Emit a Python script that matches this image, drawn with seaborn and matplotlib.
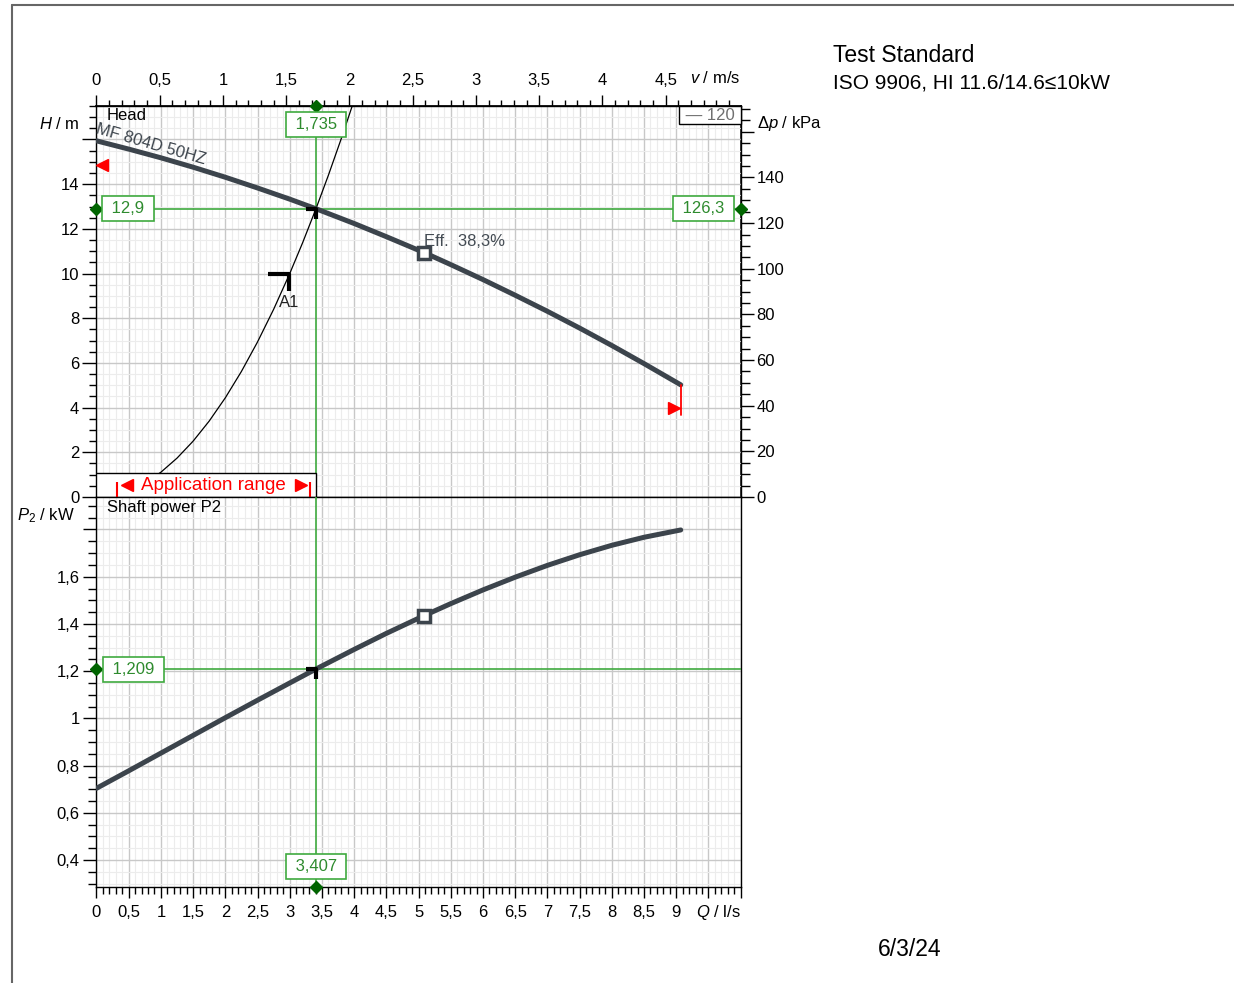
import numpy as np
import matplotlib.pyplot as plt
import seaborn as sns
from matplotlib.ticker import MultipleLocator, FixedLocator, FuncFormatter
from matplotlib.patches import Rectangle
from matplotlib.lines import Line2D

sns.set_theme(style='white', rc={'xtick.bottom': True, 'ytick.left': True,
                                 'axes.edgecolor': 'black', 'xtick.color': 'black',
                                 'ytick.color': 'black', 'text.color': 'black'})
plt.rcParams['font.family'] = ['Liberation Sans', 'DejaVu Sans']
plt.rcParams['mathtext.fontset'] = 'custom'
plt.rcParams['mathtext.rm'] = 'Liberation Sans'
plt.rcParams['mathtext.it'] = 'Liberation Sans:italic'

# pump curve MF 804D 50HZ
q_pump = [0, 0.5, 1, 1.5, 2, 2.5, 3, 3.407, 4, 4.5, 5.085, 5.5, 6, 6.5, 7, 7.5, 8, 8.5, 9.07]
head = [15.94, 15.57, 15.18, 14.76, 14.31, 13.83, 13.33, 12.90, 12.24, 11.65, 10.94,
        10.40, 9.73, 9.03, 8.31, 7.56, 6.78, 5.97, 5.02]
power = [0.704, 0.778, 0.853, 0.928, 1.003, 1.077, 1.150, 1.209, 1.292, 1.360, 1.435,
         1.486, 1.544, 1.598, 1.648, 1.693, 1.733, 1.767, 1.798]

# system curve
q_sys = [0, 0.5, 0.75, 1, 1.25, 1.5, 1.75, 2, 2.25, 2.5, 2.75, 3, 3.2, 3.407, 3.6, 3.8, 3.97]
h_sys = [0, 0.28, 0.62, 1.11, 1.74, 2.50, 3.40, 4.44, 5.62, 6.94, 8.40, 10.0, 11.38, 12.9,
         14.40, 16.04, 17.5]

# duty point
op_q, op_h, op_dp, op_v, op_p = 3.407, 12.9, 126.3, 1.735, 1.209
eff_q, eff_h, eff_p, eff_txt = 5.085, 10.94, 1.435, 'Eff.  38,3%'
a1_q, a1_h = 2.99, 9.97
app_q = [0.32, 3.32]
app_box_h = 1.06
lim_left = (0.09, 14.87)
lim_right = (8.97, 3.98)
lim_right_bar = [3.67, 5.02]

q_max, h_max = 10, 17.5
p_min, p_max = 0.2875, 1.9375

curve_c = '#3c444c'
green = '#3faa3f'
green_txt = '#2e8b2e'
dgreen = '#006400'


def comma(v, pos=None):
    s = f'{v:.2f}'.rstrip('0').rstrip('.')
    return s.replace('.', ',')


def fmt(v, nd):
    return f'{v:.{nd}f}'.replace('.', ',')


fig = plt.figure(figsize=(12.34, 9.83), dpi=100)
ax1 = fig.add_axes([0.0782, 0.4944, 0.5220, 0.3978])
ax2 = fig.add_axes([0.0782, 0.0980, 0.5220, 0.3964], sharex=ax1)

for ax in (ax1, ax2):
    ax.set_axisbelow(True)
    ax.xaxis.set_major_locator(MultipleLocator(0.5))
    ax.xaxis.set_minor_locator(MultipleLocator(0.1))
    ax.grid(which='major', color='#c8c8c8', lw=1.0)
    ax.grid(which='minor', color='#ececec', lw=0.8)
    for sp in ax.spines.values():
        sp.set_color('black')
        sp.set_linewidth(1.0)

ax1.set_xlim(0, q_max)
ax1.set_ylim(0, h_max)
ax2.set_ylim(p_min, p_max)

# upper panel ticks
ax1.yaxis.set_major_locator(MultipleLocator(2))
ax1.yaxis.set_minor_locator(MultipleLocator(0.5))
ax1.yaxis.set_major_formatter(FuncFormatter(lambda v, p: comma(v) if v <= 14.01 else ''))
ax1.tick_params(axis='x', which='both', bottom=False, labelbottom=False)
ax1.tick_params(axis='y', which='major', direction='out', length=10, width=1, labelsize=12, pad=2.5)
ax1.tick_params(axis='y', which='minor', direction='out', length=5, width=1, left=True)

v_per_q = op_v / op_q
dp_per_h = op_dp / op_h
top = ax1.secondary_xaxis('top', functions=(lambda q: np.asarray(q) * v_per_q,
                                            lambda v: np.asarray(v) / v_per_q))
top.xaxis.set_major_locator(FixedLocator(np.arange(0, 4.51, 0.5)))
top.xaxis.set_minor_locator(MultipleLocator(0.1))
top.xaxis.set_major_formatter(FuncFormatter(comma))
top.tick_params(which='major', direction='out', length=8, width=1, labelsize=12, pad=5)
top.tick_params(which='minor', direction='out', length=4.3, width=1)

right = ax1.secondary_yaxis('right', functions=(lambda h: np.asarray(h) * dp_per_h,
                                                lambda d: np.asarray(d) / dp_per_h))
right.yaxis.set_major_locator(MultipleLocator(20))
right.yaxis.set_minor_locator(MultipleLocator(5))
right.yaxis.set_major_formatter(FuncFormatter(lambda v, p: comma(v) if v <= 140.1 else ''))
right.tick_params(which='major', direction='out', length=9.5, width=1, labelsize=12, pad=2)
right.tick_params(which='minor', direction='out', length=6.5, width=1)

# lower panel ticks
ax2.yaxis.set_major_locator(FixedLocator(np.arange(0.4, 1.81, 0.2)))
ax2.yaxis.set_minor_locator(MultipleLocator(0.05))
ax2.yaxis.set_major_formatter(FuncFormatter(lambda v, p: comma(v) if v <= 1.61 else ''))
ax2.xaxis.set_major_formatter(FuncFormatter(lambda v, p: comma(v) if v <= 9.01 else ''))
ax2.tick_params(axis='y', which='major', direction='out', length=9.5, width=1, labelsize=12, pad=2.5)
ax2.tick_params(axis='y', which='minor', direction='out', length=5.5, width=1, left=True)
ax2.tick_params(axis='x', which='major', direction='out', length=8, width=1, labelsize=12, pad=5)
ax2.tick_params(axis='x', which='minor', direction='out', length=5, width=1, bottom=True)

# curves
sns.lineplot(x=q_pump, y=head, ax=ax1, color=curve_c, lw=3.6, zorder=5)
sns.lineplot(x=q_sys, y=h_sys, ax=ax1, color='black', lw=0.9, zorder=4)
sns.lineplot(x=q_pump, y=power, ax=ax2, color=curve_c, lw=3.6, zorder=5)

# duty point lines
for ax in (ax1, ax2):
    ax.axvline(op_q, color=green, lw=1.2, zorder=3)
ax1.axhline(op_h, color=green, lw=1.2, zorder=3)
ax2.axhline(op_p, color=green, lw=1.2, zorder=3)

# application range box
ax1.add_patch(Rectangle((0, 0), op_q, app_box_h, facecolor='white', edgecolor='black',
                        lw=1.0, zorder=6))
ax1.vlines(app_q, 0, app_box_h * 0.65, color='red', lw=1.5, zorder=7)
ax1.plot(app_q[0] + 0.15, app_box_h * 0.5, marker='<', color='red', ms=9, zorder=7)
ax1.plot(app_q[1] - 0.15, app_box_h * 0.5, marker='>', color='red', ms=9, zorder=7)
ax1.text(np.mean(app_q), app_box_h * 0.5, 'Application range', color='red', fontsize=13.5,
         ha='center', va='center', zorder=8)

# limit markers
ax1.plot(*lim_left, marker='<', color='red', ms=9, zorder=7)
ax1.plot(*lim_right, marker='>', color='red', ms=9, zorder=7)
ax1.plot([q_pump[-1]] * 2, lim_right_bar, color='red', lw=1.3, zorder=6)

# markers
corner = [(-1, 0), (0, 0), (0, -1)]
corner_a1 = [(-1, 0), (0, 0), (0, -0.8)]
ax1.plot(op_q, op_h, marker=corner, ms=14.4, mew=3, mec='black', mfc='none', zorder=8)
ax2.plot(op_q, op_p, marker=corner, ms=14.4, mew=3, mec='black', mfc='none', zorder=8)
ax1.plot(a1_q, a1_h, marker=corner_a1, ms=30, mew=3, mec='black', mfc='none', zorder=8)
ax1.text(a1_q, a1_h - 1.25, 'A1', fontsize=12, ha='center', va='center', color='#222222')
ax1.plot(eff_q, eff_h, marker='s', ms=8, mew=2.5, mec=curve_c, mfc='white', zorder=8)
ax2.plot(eff_q, eff_p, marker='s', ms=8, mew=2.5, mec=curve_c, mfc='white', zorder=8)
ax1.text(eff_q, eff_h + 0.5, eff_txt, fontsize=12, color='#444c54', ha='left', va='center')

# diamonds on the axes
for ax, x, y in [(ax1, op_q, h_max), (ax1, 0, op_h), (ax1, q_max, op_h),
                 (ax2, 0, op_p), (ax2, op_q, p_min)]:
    ax.plot(x, y, marker='D', color=dgreen, ms=6.5, clip_on=False, zorder=9)

# green value boxes
box = dict(boxstyle='square,pad=0.3', fc='white', ec=green, lw=1.2)
ax1.text(op_q, 16.66, ' ' + fmt(op_v, 3) + ' ', fontsize=12, color=green_txt,
         ha='center', va='center', bbox=box, zorder=9)
ax1.text(0.049, op_h, ' ' + fmt(op_h, 1) + ' ', fontsize=12, color=green_txt,
         transform=ax1.get_yaxis_transform(), ha='center', va='center', bbox=box, zorder=9)
ax1.text(0.943, op_h, ' ' + fmt(op_dp, 1) + ' ', fontsize=12, color=green_txt,
         transform=ax1.get_yaxis_transform(), ha='center', va='center', bbox=box, zorder=9)
ax2.text(0.0567, op_p, ' ' + fmt(op_p, 3) + ' ', fontsize=12, color=green_txt,
         transform=ax2.get_yaxis_transform(), ha='center', va='center', bbox=box, zorder=9)
ax2.text(op_q, 0.375, ' ' + fmt(op_q, 3) + ' ', fontsize=12, color=green_txt,
         ha='center', va='center', bbox=box, zorder=9)

# curve texts
ax1.text(0.016, 0.975, 'Head', transform=ax1.transAxes, fontsize=12, va='center')
ax1.text(0, 16.5, 'MF 804D 50HZ', fontsize=12, color=curve_c, rotation=-16,
         rotation_mode='anchor', ha='left', va='center')
ax2.text(0.016, 0.974, 'Shaft power P2', transform=ax2.transAxes, fontsize=12, va='center')
ax1.text(0.9975, 0.996, ' — 120 ', transform=ax1.transAxes, ha='right', va='top',
         fontsize=12, color='#707070', zorder=9,
         bbox=dict(boxstyle='square,pad=0.1', fc='white', ec='black', lw=1.0))

# axis labels
ax1.text(-0.026, 0.954, '$H$ / m', transform=ax1.transAxes, ha='right', va='center', fontsize=12)
ax1.text(1.026, 0.954, 'Δ$p$ / kPa', transform=ax1.transAxes, ha='left', va='center', fontsize=12)
ax1.text(1.0, 1.0716, '$v$ / m/s', transform=ax1.transAxes, ha='right', va='center', fontsize=12)
ax2.text(1.0, -0.067, '$Q$ / l/s', transform=ax2.transAxes, ha='right', va='center', fontsize=12)
ax2.text(-0.033, 0.953, '$P_{\\mathrm{2}}$ / kW', transform=ax2.transAxes, ha='right',
         va='center', fontsize=12)

# page texts
fig.text(833 / 1234, 1 - 55 / 983, 'Test Standard', fontsize=16.5, va='center')
fig.text(833 / 1234, 1 - 83 / 983, 'ISO 9906, HI 11.6/14.6≤10kW', fontsize=15, va='center')
fig.text(878 / 1234, 1 - 950 / 983, '6/3/24', fontsize=16.5, va='center')

# page frame
fig.add_artist(Line2D([12 / 1234, 1], [1 - 5 / 983] * 2, color='#666666', lw=1.5))
fig.add_artist(Line2D([12 / 1234] * 2, [0, 1 - 5 / 983], color='#666666', lw=1.5))

fig.savefig('out.png', dpi=100)
